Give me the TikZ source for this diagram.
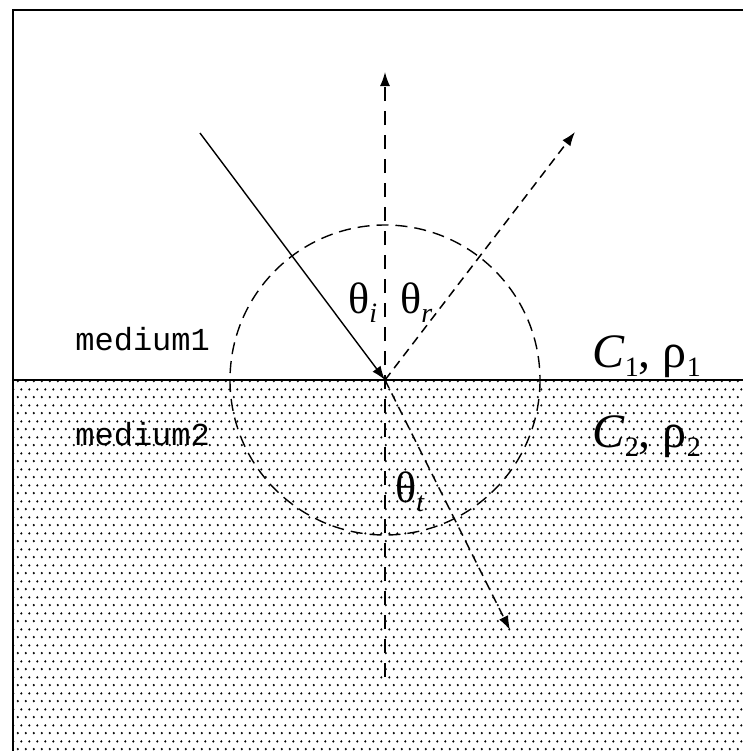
\documentclass[tikz,border=0pt]{standalone}
\usepackage{fontspec}
\setmainfont{Liberation Serif}
\setmonofont{Liberation Mono}
\usetikzlibrary{arrows.meta,patterns}
\pgfdeclarepatternformonly{finedots}{\pgfpointorigin}{\pgfqpoint{4pt}{7.8pt}}{\pgfqpoint{4pt}{7.8pt}}{
    \pgfpathcircle{\pgfqpoint{1pt}{1pt}}{0.65pt}
    \pgfpathcircle{\pgfqpoint{3pt}{4.9pt}}{0.65pt}
    \pgfusepath{fill}
}
\newcommand{\lowsub}[2][\itshape]{\raisebox{-4.5pt}{\fontsize{14}{14}\selectfont#1#2}}
\tikzset{
    framesolid/.style={line width=1pt, color=black},
    raysolid/.style={line width=0.7pt, color=black},
    raydashed/.style={line width=0.75pt, dash pattern=on 4.5pt off 3pt},
    normaldashed/.style={line width=0.75pt, dash pattern=on 7pt off 5pt},
    circledashed/.style={line width=0.7pt, dash pattern=on 6pt off 3.5pt},
    raytip/.style={-{Latex[length=7pt,width=5pt]}},
    anglelabel/.style={anchor=base west, inner sep=0pt, font=\fontsize{22}{22}\selectfont},
    mediumlabel/.style={anchor=base west, inner sep=0pt, font=\ttfamily\fontsize{16}{16}\selectfont}
}
\begin{document}
\begin{tikzpicture}[x=0.5pt,y=-0.5pt]
        \useasboundingbox (0,0) rectangle (743,751);
        \clip (0,0) rectangle (743,751);
        \coordinate (O) at (385,380);
        \coordinate (inc) at (200,133);
        \coordinate (nrmtop) at (385,72);
        \coordinate (nrmbot) at (385,677);
        \coordinate (refl) at (575,132);
        \coordinate (trans) at (510,630);
        
        \fill[pattern=finedots, pattern color=black] (13,380) rectangle (760,760);
        \draw[framesolid] (13,10) rectangle (760,760);
        \draw[framesolid] (13,380) -- (760,380);
        
        \draw[circledashed] (O) circle[radius=155];
        \draw[normaldashed, raytip] (nrmbot) -- (nrmtop);
        \draw[raysolid, raytip] (inc) -- (O);
        \draw[raydashed, raytip] (O) -- (refl);
        \draw[raydashed, raytip] (O) -- (trans);
        
        \node[anglelabel] (thetai) at (348,313) {θ\lowsub{i}};
        \node[anglelabel] (thetar) at (400,313) {θ\lowsub{r}};
        \node[anglelabel] (thetat) at (395,502) {θ\lowsub{t}};
        \node[mediumlabel] (med1) at (75,350) {medium1};
        \node[mediumlabel] (med2) at (75,445) {medium2};
        \node[anglelabel, font=\fontsize{24}{24}\selectfont] (prop1) at (592,367) {\textit{C}\lowsub[\upshape]{1}, ρ\lowsub[\upshape]{1}};
        \node[anglelabel, font=\fontsize{24}{24}\selectfont] (prop2) at (592,447) {\textit{C}\lowsub[\upshape]{2}, ρ\lowsub[\upshape]{2}};
        
    \end{tikzpicture}
\end{document}
